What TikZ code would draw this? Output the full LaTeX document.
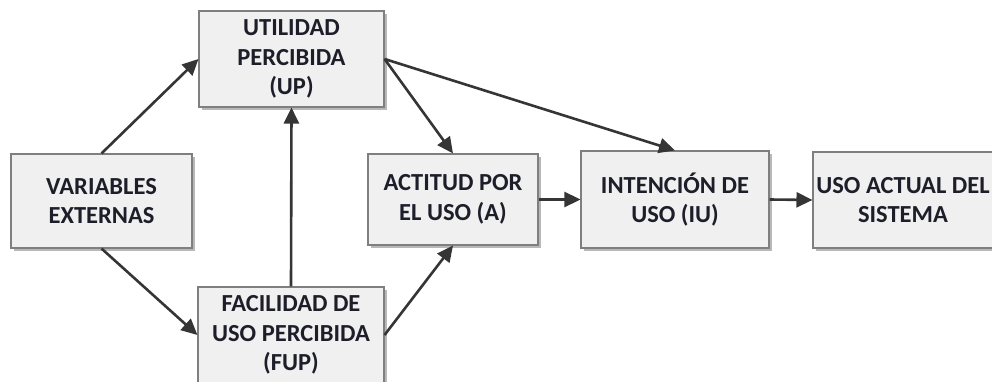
\documentclass[tikz,border=0pt]{standalone}
\usepackage{fontspec}
\setmainfont{Carlito}
\usetikzlibrary{arrows.meta,shadows}
\definecolor{boxfill}{HTML}{F0F0F0}
\definecolor{boxdraw}{HTML}{7F7F7F}
\definecolor{arrowcol}{HTML}{353535}
\definecolor{txt}{HTML}{1E1E2A}
\begin{document}
\begin{tikzpicture}[x=1pt,y=-1pt,
  tambox/.style={draw=boxdraw, line width=1.1pt, fill=boxfill, rectangle, align=center,
    font=\fontsize{24.5}{29.5}\selectfont\bfseries, text=txt, inner sep=0pt,
    drop shadow={shadow xshift=3pt, shadow yshift=-3pt, fill=black, opacity=0.28}},
  conn/.style={draw=arrowcol, line width=2.6pt, -{Triangle[length=16pt,width=15pt]}}]
\useasboundingbox (0,0) rectangle (992,382);
\node[tambox, minimum width=185pt, minimum height=96pt] (up) at (291.5,59) {UTILIDAD\\PERCIBIDA\\(UP)};
\node[tambox, minimum width=181pt, minimum height=94pt] (var) at (101.5,201) {VARIABLES\\EXTERNAS};
\node[tambox, minimum width=186pt, minimum height=96pt] (fup) at (291,335) {FACILIDAD DE\\USO PERCIBIDA\\(FUP)};
\node[tambox, minimum width=170pt, minimum height=91pt] (act) at (453,199.5) {ACTITUD POR\\EL USO (A)};
\node[tambox, minimum width=188pt, minimum height=97pt] (iu) at (675,199.5) {INTENCIÓN DE\\USO (IU)};
\node[tambox, minimum width=180pt, minimum height=96pt] (uso) at (903,200) {USO ACTUAL DEL\\SISTEMA};
\draw[conn] (var.north) -- (up.west);
\draw[conn] (var.south) -- (fup.west);
\draw[conn] (fup.north) -- (up.south);
\draw[conn] (up.east) -- (act.north);
\draw[conn] (up.east) -- (iu.north);
\draw[conn] (fup.east) -- (act.south);
\draw[conn] (act.east) -- (iu.west);
\draw[conn] (iu.east) -- (uso.west);
\end{tikzpicture}
\end{document}
